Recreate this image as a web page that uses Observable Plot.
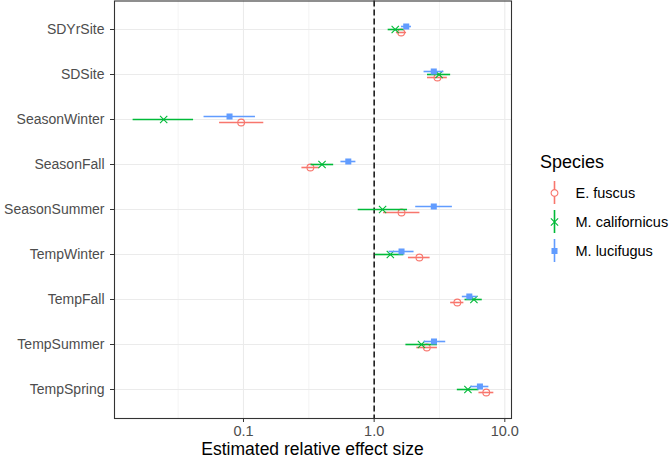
<!DOCTYPE html>
<html>
<head>
<meta charset="utf-8">
<script src="https://cdn.jsdelivr.net/npm/d3@7"></script>
<script src="https://cdn.jsdelivr.net/npm/@observablehq/plot@0.6"></script>
<style>
  html, body { margin: 0; padding: 0; background: #fff; }
  #wrap { position: relative; width: 670px; height: 459px; font-family: "Liberation Sans", Arial, sans-serif; }
  #main { position: absolute; left: 0; top: 0; }
  #legend { position: absolute; left: 520px; top: 178px; }
  #legtitle { position: absolute; left: 540px; top: 153px; font-size: 18px; line-height: 18px; color: #000; }
  #xtitle { position: absolute; left: 114px; width: 397px; top: 442px; text-align: center; font-size: 17.5px; line-height: 14px; color: #000; }
</style>
</head>
<body>
<div id="wrap">
  <div id="main"></div>
  <div id="legtitle">Species</div>
  <div id="legend"></div>
  <div id="xtitle">Estimated relative effect size</div>
</div>
<script>
const categories = ["SDYrSite","SDSite","SeasonWinter","SeasonFall","SeasonSummer","TempWinter","TempFall","TempSummer","TempSpring"];
const species = ["E. fuscus","M. californicus","M. lucifugus"];
const speciesColors = ["#F8766D","#00BA38","#619CFF"];

const fuscusEst = [1.61, 3.05, 0.096, 0.325, 1.62, 2.22, 4.33, 2.53, 7.21];
const fuscusLo  = [1.48, 2.56, 0.0656, 0.280, 1.18, 1.83, 3.85, 2.12, 6.34];
const fuscusHi  = [1.77, 3.63, 0.143, 0.380, 2.24, 2.68, 4.86, 3.05, 8.24];

const californicusEst = [1.45, 3.14, 0.0245, 0.399, 1.16, 1.33, 5.80, 2.30, 5.22];
const californicusLo  = [1.28, 2.56, 0.0143, 0.329, 0.755, 1.02, 4.96, 1.75, 4.33];
const californicusHi  = [1.69, 3.85, 0.0415, 0.490, 1.80, 1.69, 6.72, 3.05, 6.34];

const lucifugusEst = [1.76, 2.86, 0.0782, 0.634, 2.86, 1.62, 5.35, 2.87, 6.45];
const lucifugusLo  = [1.62, 2.41, 0.0499, 0.557, 2.08, 1.30, 4.73, 2.41, 5.47];
const lucifugusHi  = [1.93, 3.42, 0.1235, 0.725, 3.97, 2.02, 6.15, 3.53, 7.55];

const xMajorTicks = [0.1, 1, 10];
const xMinorTicks = [Math.pow(10, -1.5), Math.pow(10, -0.5), Math.pow(10, 0.5)];
const refLine = [1];

const seriesArrays = [
  [fuscusEst, fuscusLo, fuscusHi],
  [californicusEst, californicusLo, californicusHi],
  [lucifugusEst, lucifugusLo, lucifugusHi]
];
const symbols = ["circle", "times", "square"];
const dodge = [3, 0, -3];

const marks = [
  Plot.gridX(xMinorTicks, {stroke: "#EBEBEB", strokeOpacity: 1, strokeWidth: 0.6}),
  Plot.gridX(xMajorTicks, {stroke: "#EBEBEB", strokeOpacity: 1, strokeWidth: 1.1}),
  Plot.gridY(categories, {stroke: "#EBEBEB", strokeOpacity: 1, strokeWidth: 1.1}),
  Plot.ruleX(refLine, {stroke: "#000", strokeWidth: 1.4, strokeDasharray: "6,3"})
];

species.forEach((sp, s) => {
  const [est, lo, hi] = seriesArrays[s];
  const rows = categories.map((c, i) => ({term: c, species: sp, est: est[i], lo: lo[i], hi: hi[i]}));
  marks.push(Plot.ruleY(rows, {y: "term", x1: "lo", x2: "hi", stroke: speciesColors[s], strokeWidth: 1.6, dy: dodge[s]}));
  if (symbols[s] === "square") {
    marks.push(Plot.dot(rows, {y: "term", x: "est", symbol: "square", r: 3.4, fill: speciesColors[s], stroke: "none", dy: dodge[s]}));
  } else {
    marks.push(Plot.dot(rows, {y: "term", x: "est", symbol: symbols[s], r: 3.4, fill: "none", stroke: speciesColors[s], strokeWidth: 1.1, dy: dodge[s]}));
  }
});

marks.push(Plot.frame({stroke: "#333333", strokeWidth: 1.1}));
marks.push(Plot.axisY({tickSize: 4, tickPadding: 6, fontSize: 14, fill: "#4D4D4D", stroke: "#333333", label: null}));
marks.push(Plot.axisX({ticks: xMajorTicks, tickFormat: d3.format(".1f"), tickSize: 4, tickPadding: 3, fontSize: 14.5, fill: "#4D4D4D", stroke: "#333333", label: null}));

const chart = Plot.plot({
  width: 670,
  height: 459,
  marginLeft: 114,
  marginRight: 159,
  marginTop: 0.5,
  marginBottom: 41,
  style: {fontFamily: "Liberation Sans, Arial, sans-serif", background: "#fff"},
  x: {type: "log", domain: [0.0103, 11.25]},
  y: {type: "point", domain: categories, padding: 0.6},
  marks
});
document.getElementById("main").appendChild(chart);

// legend
const legendRows = species.map((sp, s) => ({species: sp, color: speciesColors[s], symbol: symbols[s]}));
const legend = Plot.plot({
  width: 150,
  height: 87,
  margin: 0,
  style: {fontFamily: "Liberation Sans, Arial, sans-serif", background: "transparent"},
  x: {domain: [0, 150], range: [0, 150], axis: null},
  y: {type: "band", domain: species, paddingInner: 0.2, paddingOuter: 0.1, axis: null},
  marks: [
    Plot.tickX(legendRows, {x: () => 34, y: "species", stroke: "color", strokeWidth: 1.6}),
    Plot.dot(legendRows.filter(d => d.symbol !== "square"), {x: () => 34, y: "species", symbol: "symbol", r: 3.4, fill: "#fff", stroke: "color", strokeWidth: 1.1}),
    Plot.dot(legendRows.filter(d => d.symbol === "square"), {x: () => 34, y: "species", symbol: "symbol", r: 3.4, fill: "color", stroke: "none"}),
    Plot.text(legendRows, {x: () => 55, y: "species", text: "species", textAnchor: "start", fontSize: 14.5, fill: "#000"})
  ]
});
document.getElementById("legend").appendChild(legend);
</script>
</body>
</html>
